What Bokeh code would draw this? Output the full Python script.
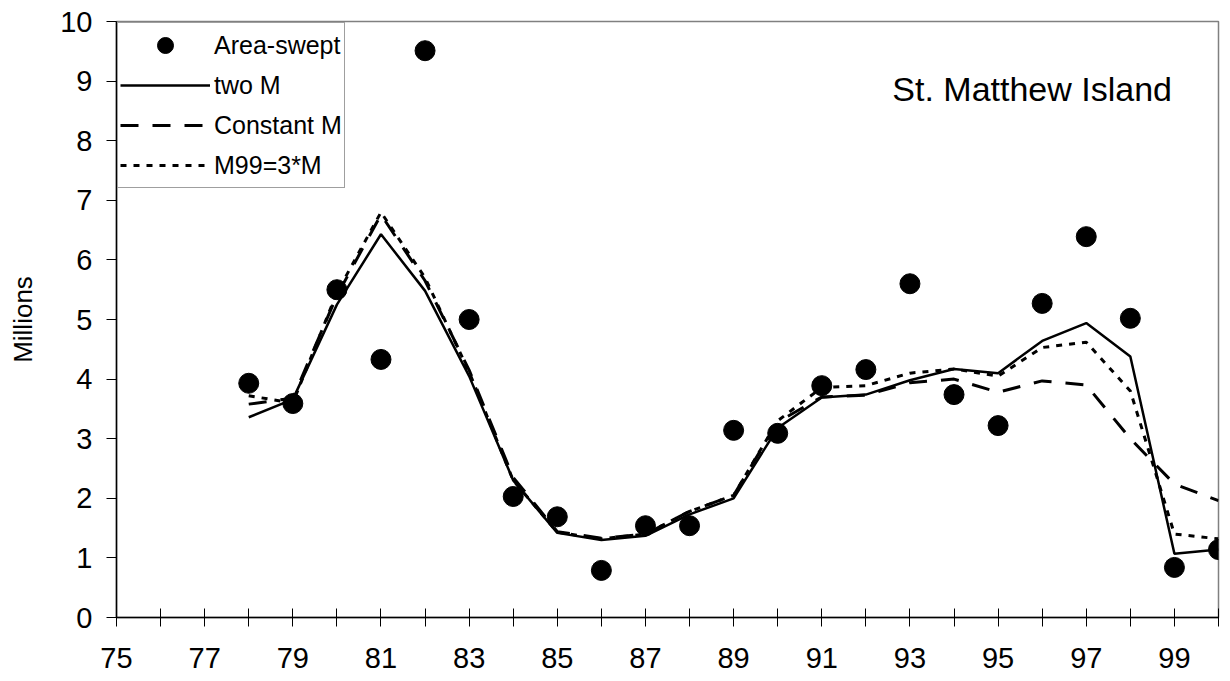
from bokeh.plotting import figure
from bokeh.models import Range1d, FixedTicker, Legend, LegendItem, Label
from bokeh.embed import file_html
from bokeh.resources import INLINE

# ---- data ----
years = [78, 79, 80, 81, 82, 83, 84, 85, 86, 87, 88, 89, 90, 91, 92, 93, 94, 95, 96, 97, 98, 99, 100]
area_swept = [3.93, 3.59, 5.50, 4.33, 9.51, 5.00, 2.03, 1.69, 0.79, 1.54, 1.54, 3.14, 3.09,
              3.89, 4.16, 5.60, 3.74, 3.22, 5.27, 6.39, 5.02, 0.84, 1.14]
two_m = [3.36, 3.66, 5.25, 6.43, 5.48, 4.05, 2.30, 1.42, 1.30, 1.37, 1.73, 2.00, 3.18,
         3.69, 3.74, 3.98, 4.17, 4.10, 4.64, 4.94, 4.38, 1.07, 1.14]
constant_m = [3.58, 3.68, 5.40, 6.76, 5.65, 4.15, 2.35, 1.44, 1.33, 1.40, 1.78, 2.05, 3.28,
              3.70, 3.73, 3.94, 4.00, 3.78, 3.97, 3.90, 3.00, 2.24, 1.96]
m99_3m = [3.72, 3.60, 5.45, 6.80, 5.70, 4.12, 2.30, 1.43, 1.32, 1.40, 1.78, 2.05, 3.30,
          3.86, 3.89, 4.10, 4.17, 4.05, 4.53, 4.62, 3.80, 1.40, 1.32]
x_major_ticks = [75, 77, 79, 81, 83, 85, 87, 89, 91, 93, 95, 97, 99]
x_minor_ticks = [76, 78, 80, 82, 84, 86, 88, 90, 92, 94, 96, 98, 100]
y_ticks = [0, 1, 2, 3, 4, 5, 6, 7, 8, 9, 10]
series_names = ["Area-swept", "two M", "Constant M", "M99=3*M"]
annotation = "St. Matthew Island"
y_label = "Millions"

FONT = "Liberation Sans"

p = figure(width=1222, height=681, output_backend="svg", toolbar_location=None,
           x_range=Range1d(75, 100), y_range=Range1d(0, 10),
           min_border_left=116, min_border_right=4, min_border_top=21, min_border_bottom=64)
p.background_fill_color = "white"
p.border_fill_color = "white"
p.outline_line_color = "#808080"
p.outline_line_width = 1.5
p.xgrid.visible = False
p.ygrid.visible = False

# x axis
xa = p.xaxis[0]
xa.ticker = FixedTicker(ticks=x_major_ticks, minor_ticks=x_minor_ticks)
xa.axis_line_color = "black"
xa.axis_line_width = 1.5
xa.major_tick_in = 9
xa.major_tick_out = 9
xa.minor_tick_in = 9
xa.minor_tick_out = 9
xa.major_tick_line_color = "black"
xa.minor_tick_line_color = "black"
xa.major_tick_line_width = 1
xa.minor_tick_line_width = 1
xa.major_label_text_font = FONT
xa.major_label_text_font_size = "29px"
xa.major_label_text_color = "black"
xa.major_label_standoff = 21

# y axis
ya = p.yaxis[0]
ya.ticker = FixedTicker(ticks=y_ticks, minor_ticks=[])
ya.axis_line_color = "black"
ya.axis_line_width = 1.5
ya.major_tick_in = 0
ya.major_tick_out = 10
ya.major_tick_line_color = "black"
ya.minor_tick_line_color = None
ya.major_label_text_font = FONT
ya.major_label_text_font_size = "29px"
ya.major_label_text_color = "black"
ya.major_label_standoff = 14
ya.axis_label = y_label
ya.axis_label_text_font = FONT
ya.axis_label_text_font_size = "26px"
ya.axis_label_text_font_style = "normal"
ya.axis_label_text_color = "black"
ya.axis_label_standoff = 19

# series
r_dash = p.line(years, constant_m, line_color="black", line_width=3, line_dash="18 14")
r_dot = p.line(years, m99_3m, line_color="black", line_width=3, line_dash="6 7")
r_solid = p.line(years, two_m, line_color="black", line_width=2.5)
r_pts = p.scatter(years, area_swept, size=20, color="black")

legend = Legend(items=[LegendItem(label=series_names[0], renderers=[r_pts]),
                       LegendItem(label=series_names[1], renderers=[r_solid]),
                       LegendItem(label=series_names[2], renderers=[r_dash]),
                       LegendItem(label=series_names[3], renderers=[r_dot])],
                location="top_left", margin=1, padding=2, spacing=0,
                glyph_width=90, glyph_height=40, label_height=40, label_standoff=4,
                label_text_font=FONT, label_text_font_size="25px", label_text_color="black",
                border_line_color="#404040", border_line_width=1.5,
                background_fill_color="white", background_fill_alpha=1)
p.add_layout(legend)

p.add_layout(Label(x=92.6, y=8.86, text=annotation, text_font=FONT, text_font_size="34px",
                   text_align="left", text_baseline="middle", text_color="black"))

open("out.html", "w").write(file_html(p, INLINE))
